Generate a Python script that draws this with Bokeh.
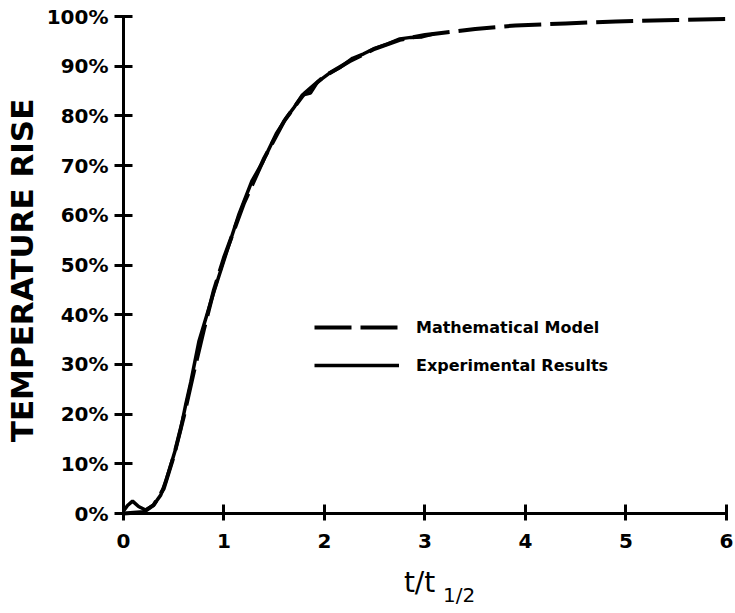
import math
from bokeh.plotting import figure
from bokeh.models import (Label, Legend, LegendItem, FixedTicker,
                          PrintfTickFormatter, Range1d)
from bokeh.embed import file_html
from bokeh.resources import INLINE

# ---- data ----
x_ticks = [0, 1, 2, 3, 4, 5, 6]
y_ticks = [0, 10, 20, 30, 40, 50, 60, 70, 80, 90, 100]

# Mathematical model (dashed), t/t1/2 vs temperature rise %
model_t = [0, 0.2, 0.3, 0.4, 0.5, 0.6, 0.7, 0.8, 0.9, 1.0, 1.2, 1.4, 1.6,
           1.8, 2.0, 2.25, 2.5, 2.75, 3.0, 3.5, 3.9, 4.4, 4.9, 5.5, 6.0]
model_rise = [0, 0.3, 1.7, 5.0, 11.5, 19.5, 28.5, 37.0, 45.0, 51.5, 62.5,
              71.5, 79.0, 84.5, 88.0, 91.0, 93.5, 95.3, 96.3, 97.5, 98.2,
              98.6, 99.0, 99.3, 99.5]

# Experimental results (solid)
exp_t = [0, 0.04, 0.09, 0.15, 0.22, 0.30, 0.37, 0.42, 0.47, 0.52, 0.57,
         0.62, 0.67, 0.75, 0.89, 1.02, 1.15, 1.28, 1.38, 1.52, 1.62, 1.70,
         1.78, 1.86, 1.93, 2.05, 2.16, 2.28, 2.39, 2.50, 2.63, 2.75, 2.86,
         2.97, 3.09]
exp_rise = [0.5, 1.6, 2.5, 1.4, 0.7, 1.7, 3.7, 6.4, 9.7, 13.1, 17.1, 22.0,
            26.5, 34.6, 44.0, 52.2, 60.3, 67.0, 70.5, 76.4, 79.6, 81.8,
            84.2, 84.6, 86.8, 88.6, 89.8, 91.6, 92.5, 93.6, 94.5, 95.5,
            95.8, 95.9, 96.5]

FONT = "DejaVu Sans"

p = figure(width=735, height=613,
           x_range=Range1d(-1.224, 6.09), y_range=Range1d(-20.12, 103.22),
           output_backend="svg", toolbar_location=None, min_border=0)
p.xgrid.visible = False
p.ygrid.visible = False
p.outline_line_color = None
p.background_fill_color = "white"
p.border_fill_color = "white"

for ax in (p.xaxis[0], p.yaxis[0]):
    ax.axis_line_width = 3
    ax.axis_line_color = "black"
    ax.major_tick_line_width = 3
    ax.major_tick_line_color = "black"
    ax.minor_tick_line_color = None
    ax.major_label_text_font = FONT
    ax.major_label_text_font_style = "bold"
    ax.major_label_text_font_size = "20px"
    ax.major_label_text_color = "black"

p.xaxis.fixed_location = 0
p.xaxis.bounds = (0, 6)
p.xaxis.ticker = FixedTicker(ticks=x_ticks, minor_ticks=[])
p.xaxis.major_tick_in = 9
p.xaxis.major_tick_out = 7
p.xaxis.major_label_standoff = 13

p.yaxis.fixed_location = 0
p.yaxis.bounds = (0, 100)
p.yaxis.ticker = FixedTicker(ticks=y_ticks, minor_ticks=[])
p.yaxis.formatter = PrintfTickFormatter(format="%d%%")
p.yaxis.major_tick_in = 9
p.yaxis.major_tick_out = 9
p.yaxis.major_label_standoff = 6

r_model = p.line(model_t, model_rise, line_width=4, line_dash="37 9",
                 line_color="black")
r_exp = p.line(exp_t, exp_rise, line_width=3.5, line_color="black")

legend = Legend(items=[LegendItem(label="Mathematical Model", renderers=[r_model]),
                       LegendItem(label="Experimental Results", renderers=[r_exp])],
                location=(314, 238), glyph_width=85, glyph_height=20,
                label_standoff=17, spacing=18, padding=0, margin=0,
                border_line_color=None, background_fill_alpha=0,
                label_text_font=FONT, label_text_font_style="bold",
                label_text_font_size="16px", label_text_color="black")
p.add_layout(legend)

# axis titles
p.add_layout(Label(x=-1.015, y=48.9, text="TEMPERATURE RISE", angle=math.pi / 2,
                   text_font=FONT, text_font_style="bold", text_font_size="31px",
                   text_align="center", text_baseline="middle", text_color="black"))
p.add_layout(Label(x=2.79, y=-13.9, text="t/t", text_font=FONT,
                   text_font_size="28px", text_baseline="middle",
                   text_color="black"))
p.add_layout(Label(x=3.18, y=-16.3, text="1/2", text_font=FONT,
                   text_font_size="20px", text_baseline="middle",
                   text_color="black"))

open("out.html", "w").write(file_html(p, INLINE))
